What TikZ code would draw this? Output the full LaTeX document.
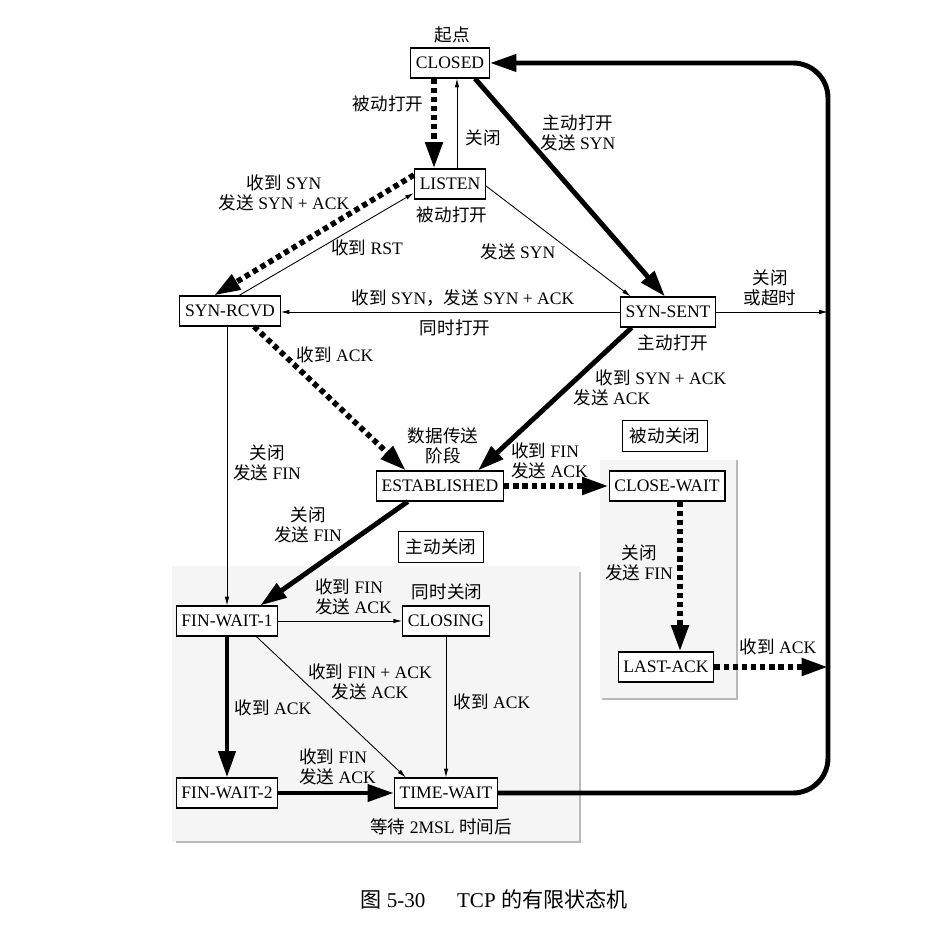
\documentclass[tikz,border=0pt]{standalone}
\usepackage{fontspec}
\setmainfont{Liberation Serif}
\newfontfamily\zh{Noto Sans CJK SC}
\usetikzlibrary{arrows.meta, calc}

\tikzset{
  state/.style={draw, fill=white, line width=0.6pt, minimum height=0.6cm, inner xsep=3pt, inner ysep=1pt},
  tag/.style={draw, line width=0.6pt, minimum height=0.62cm, inner xsep=4pt},
  lab/.style={align=center, inner sep=1pt},
  fine/.style={-{Latex[length=5pt,width=2.6pt]}, line width=0.5pt},
  heavy/.style={-{Triangle[length=15pt,width=9.5pt]}, line width=2.8pt},
  heavydot/.style={heavy, line width=3.2pt, dash pattern=on 3pt off 2.2pt},
  shade/.style={fill=gray!8},
  shadeedge/.style={draw=gray!55, line width=1.5pt}
}

\begin{document}
\begin{tikzpicture}[x=0.02cm, y=-0.02cm, font=\fontsize{10}{11.5}\selectfont]
  \useasboundingbox (0,0) rectangle (949,928);

  % shaded areas
  \fill[shade] (172,566) rectangle (580,842);
  \draw[shadeedge] (176,842) -- (580,842) -- (580,572);
  \fill[shade] (600,460) rectangle (737,699);
  \draw[shadeedge] (602,699) -- (737,699) -- (737,460);

  % states
  \node[state] (closed) at (450,63) {CLOSED};
  \node[state] (listen) at (450,184) {LISTEN};
  \node[state] (synrcvd) at (230,311) {SYN-RCVD};
  \node[state] (synsent) at (668,312) {SYN-SENT};
  \node[state] (established) at (440,486) {ESTABLISHED};
  \node[state] (closewait) at (667,486) {CLOSE-WAIT};
  \node[state] (lastack) at (666,667) {LAST-ACK};
  \node[state] (finwait1) at (227,621) {FIN-WAIT-1};
  \node[state] (closing) at (446,621) {CLOSING};
  \node[state] (finwait2) at (227,793) {FIN-WAIT-2};
  \node[state] (timewait) at (446,793) {TIME-WAIT};
  \node[tag] (passive) at (665,436) {\zh 被动关闭};
  \node[tag] (active) at (441,547) {\zh 主动关闭};

  \coordinate (rt) at (828,312);
  \coordinate (rb) at (828,667);

  % labels
  \node[lab] (l-start) at (452,35) {\zh 起点};
  \node[lab] (l-passopen) at (388,104) {\zh 被动打开};
  \node[lab] (l-close1) at (483,138) {\zh 关闭};
  \node[lab] (l-actopen) at (578,133) {{\zh 主动打开}\\{\zh 发送} SYN};
  \node[lab] (l-rcvsyn) at (284,193) {{\zh 收到} SYN\\{\zh 发送} SYN + ACK};
  \node[lab] (l-passopen2) at (452,215) {\zh 被动打开};
  \node[lab] (l-rst) at (367,248) {{\zh 收到} RST};
  \node[lab] (l-sendsyn) at (518,252) {{\zh 发送} SYN};
  \node[lab] (l-simsyn) at (463,298) {{\zh 收到} SYN{\zh ，发送} SYN + ACK};
  \node[lab] (l-simopen) at (455,328) {\zh 同时打开};
  \node[lab] (l-timeout) at (770,288) {{\zh 关闭}\\{\zh 或超时}};
  \node[lab] (l-actopen2) at (673,343) {\zh 主动打开};
  \node[lab] (l-ack1) at (335,355) {{\zh 收到} ACK};
  \node[lab] (l-synack) at (661,378) {{\zh 收到} SYN + ACK};
  \node[lab] (l-sendack) at (612,398) {{\zh 发送} ACK};
  \node[lab] (l-data) at (443,446) {{\zh 数据传送}\\{\zh 阶段}};
  \node[lab, align=left, anchor=west] (l-fin1) at (509,461) {{\zh 收到} FIN\\{\zh 发送} ACK};
  \node[lab] (l-close2) at (267,463) {{\zh 关闭}\\{\zh 发送} FIN};
  \node[lab] (l-close3) at (308,525) {{\zh 关闭}\\{\zh 发送} FIN};
  \node[lab] (l-close4) at (639,563) {{\zh 关闭}\\{\zh 发送} FIN};
  \node[lab] (l-ack2) at (778,647) {{\zh 收到} ACK};
  \node[lab, align=left, anchor=west] (l-fin2) at (313,597) {{\zh 收到} FIN\\{\zh 发送} ACK};
  \node[lab] (l-simclose) at (447,592) {\zh 同时关闭};
  \node[lab] (l-finack) at (370,682) {{\zh 收到} FIN + ACK\\{\zh 发送} ACK};
  \node[lab] (l-ack3) at (492,702) {{\zh 收到} ACK};
  \node[lab] (l-ack4) at (273,708) {{\zh 收到} ACK};
  \node[lab, align=left, anchor=west] (l-fin3) at (297,767) {{\zh 收到} FIN\\{\zh 发送} ACK};
  \node[lab] (l-wait) at (441,827) {{\zh 等待} 2MSL {\zh 时间后}};
  \node[lab, font=\fontsize{12}{14}\selectfont] (caption) at (494,899) {{\zh 图} 5-30\hspace{1.5em}TCP {\zh 的有限状态机}};

  % transitions
  \draw[heavydot] ($(closed.south)+(-16,0)$) -- ($(listen.north)+(-16,0)$);
  \draw[fine] ($(listen.north)+(7,0)$) -- ($(closed.south)+(7,0)$);
  \draw[heavy] ($(closed.south east)+(-15,0)$) -- ($(synsent.north)+(-3,0)$);
  \draw[heavydot] ($(listen.west)+(0,-9)$) -- ($(synrcvd.north)+(-16,0)$);
  \draw[fine] ($(synrcvd.north)+(9,0)$) -- ($(listen.west)+(0,9)$);
  \draw[fine] ($(listen.east)+(0,2)$) -- ($(synsent.north west)+(11,0)$);
  \draw[fine] (synsent.west) -- (synsent.west -| synrcvd.east);
  \draw[heavydot] ($(synrcvd.south)+(24,0)$) -- ($(established.north west)+(30,0)$);
  \draw[heavy] ($(synsent.south west)+(12,0)$) -- ($(established.north)+(38,0)$);
  \draw[heavydot] (established.east) -- (closewait.west);
  \coordinate (cwx) at ($(closewait.south)+(13,0)$);
  \draw[heavydot] (cwx) -- (cwx |- lastack.north);
  \draw[fine] (synsent.east) -- (rt);
  \draw[heavydot] (lastack.east) -- (rb);
  \draw[heavy] ($(established.south west)+(32,0)$) -- ($(finwait1.north east)+(-18,0)$);
  \draw[fine] (synrcvd.south -| finwait1.north) -- (finwait1.north);
  \draw[fine] (finwait1.east) -- (closing.west);
  \draw[fine] ($(finwait1.south east)+(-22,0)$) -- ($(timewait.north west)+(12,0)$);
  \draw[fine] (closing.south) -- (timewait.north);
  \draw[heavy] (finwait1.south) -- (finwait2.north);
  \draw[heavy] (finwait2.east) -- (timewait.west);
  \draw[heavy, rounded corners=0.7cm] (timewait.east) -- (828,793) -- (828,63) -- (closed.east);
\end{tikzpicture}
\end{document}
